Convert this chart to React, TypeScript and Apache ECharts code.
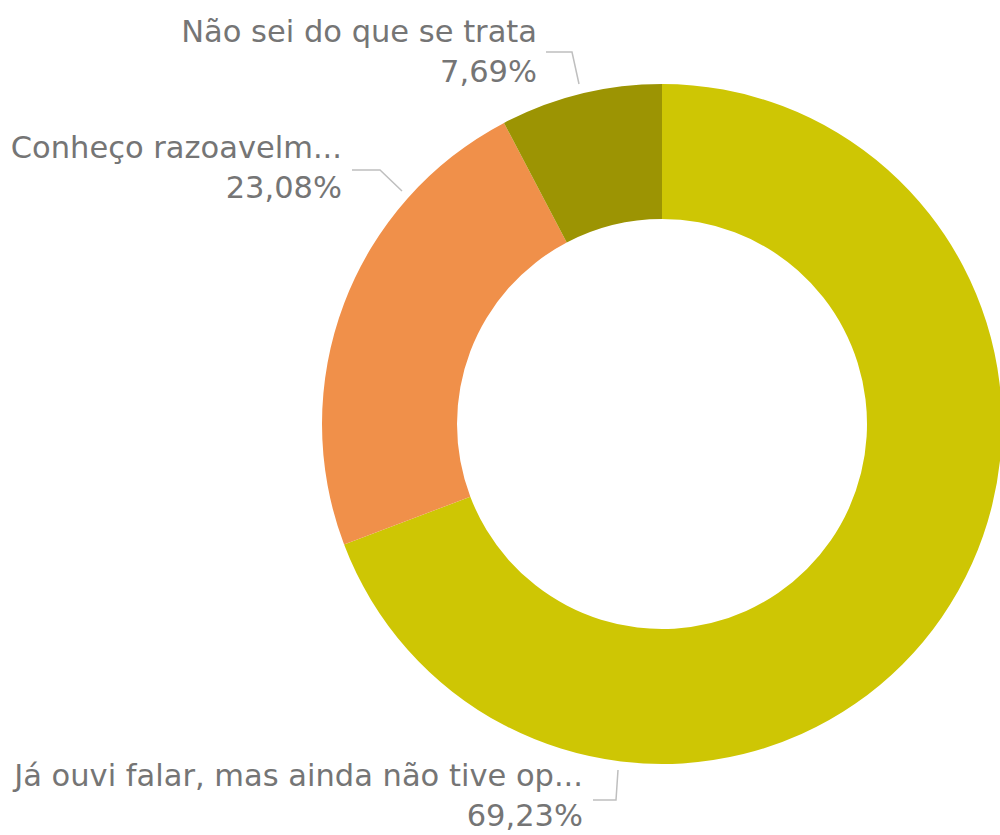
import React, { useEffect, useRef } from "react";
import * as echarts from "echarts";

const categories = [
  "Já ouvi falar, mas ainda não tive op...",
  "Conheço razoavelm...",
  "Não sei do que se trata",
];
const values = [9, 3, 1];
const colors = ["#CEC604", "#F0904A", "#9C9403"];

// label placement (layout only): right edge x, block center y, leader line points
const labelPlacement = [
  { x: 583, y: 795, line: [[618, 770], [616, 800], [593, 800]] },
  { x: 342, y: 167, line: [[402, 191], [380, 170], [352, 170]] },
  { x: 537, y: 51, line: [[579, 84], [572, 52], [546, 52]] },
];

export default function App() {
  const ref = useRef<HTMLDivElement>(null);
  useEffect(() => {
    if (!ref.current) return;
    const chart = echarts.init(ref.current, undefined, { renderer: "svg" });
    const total = values.reduce((a, b) => a + b, 0);
    chart.setOption({
      animation: false,
      backgroundColor: "#ffffff",
      series: [
        {
          type: "pie",
          center: [662, 424],
          radius: [205, 340],
          startAngle: 90,
          clockwise: true,
          avoidLabelOverlap: false,
          itemStyle: { borderWidth: 0 },
          label: {
            show: true,
            position: "outside",
            color: "#757575",
            fontFamily: "DejaVu Sans",
            fontSize: 30.5,
            lineHeight: 40,
            align: "right",
            formatter: (p: any) =>
              p.name + "\n" + ((p.value / total) * 100).toFixed(2).replace(".", ",") + "%",
          },
          labelLine: {
            show: true,
            lineStyle: { color: "#BFBFBF", width: 1.5 },
          },
          labelLayout: (params: any) => {
            const pl = labelPlacement[params.dataIndex];
            return {
              x: pl.x,
              y: pl.y,
              align: "right",
              verticalAlign: "middle",
              labelLinePoints: pl.line,
            };
          },
          data: categories.map((name, i) => ({
            name,
            value: values[i],
            itemStyle: { color: colors[i] },
          })),
        },
      ],
    });
    return () => chart.dispose();
  }, []);
  return (
    <div
      ref={ref}
      style={{ position: "fixed", left: 0, top: 0, width: 1000, height: 835 }}
    />
  );
}
